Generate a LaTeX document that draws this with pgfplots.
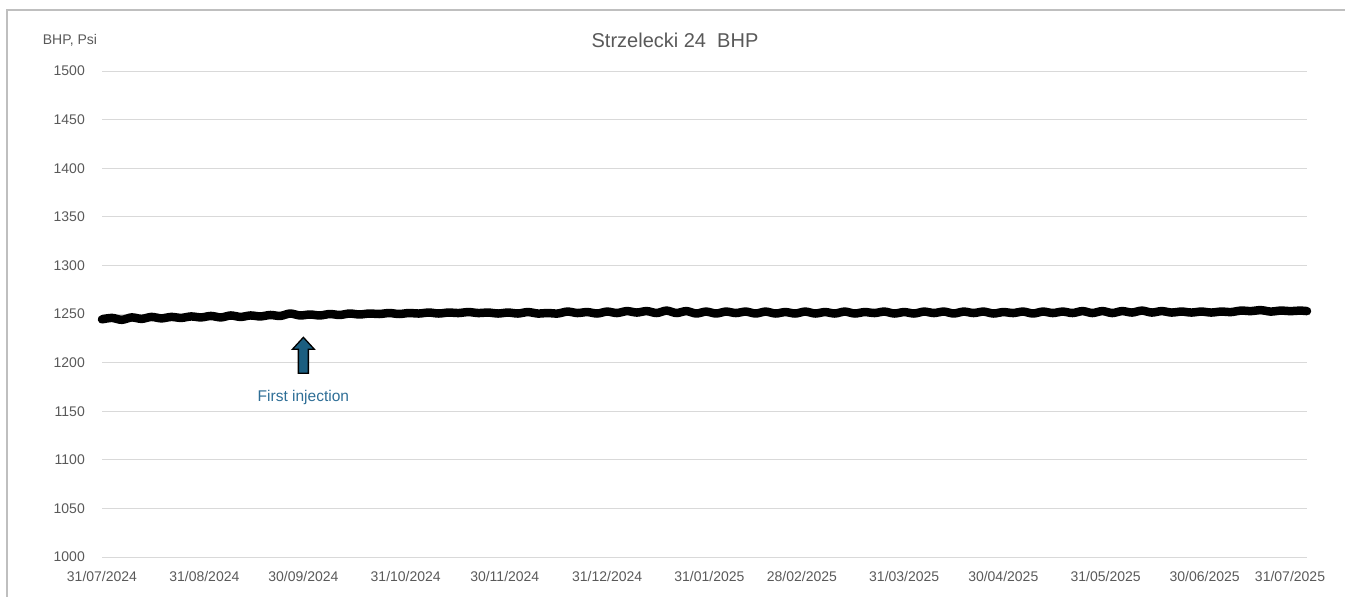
\documentclass[border=0pt]{standalone}
\usepackage{pgfplots}
\pgfplotsset{compat=1.18}
\usepackage{fontspec}
\setmainfont{Liberation Sans}

\definecolor{labelgray}{HTML}{595959}
\definecolor{gridgray}{HTML}{D9D9D9}
\definecolor{framegray}{HTML}{BFBFBF}
\definecolor{arrowfill}{HTML}{1B5E80}
\definecolor{notecolor}{HTML}{2E6E96}

% BHP readings, day 0 = 31/07/2024
\pgfplotstableread{
day bhp
0 1244.5
3 1246
6 1244
9 1246.5
12 1245
15 1247
18 1245.5
21 1247
24 1246
27 1247.5
30 1246.5
33 1248
36 1246.5
39 1248.5
42 1247
45 1248.5
48 1247.5
51 1249
54 1248
57 1250.5
60 1248.5
63 1249.5
66 1248.5
69 1250
72 1249
75 1250.5
78 1249.5
81 1250.5
84 1250
87 1251
90 1250
93 1251
96 1250.5
99 1251.5
102 1250.5
105 1251.5
108 1251
111 1252
114 1251
117 1251.5
120 1250.5
123 1251.5
126 1250.5
129 1252
132 1250.5
135 1251
138 1250.5
141 1252.5
144 1251
147 1252
150 1250.5
153 1252.5
156 1251
159 1253
162 1251.5
165 1253
168 1251
171 1253.5
174 1251
177 1253
180 1250.5
183 1252.5
186 1250.5
189 1252.5
192 1251
195 1252.5
198 1250.5
201 1252.5
204 1250.5
207 1252
210 1250.5
213 1252.5
216 1250.5
219 1252
222 1250.5
225 1252.5
228 1250.5
231 1252
234 1251
237 1252.5
240 1250.5
243 1252
246 1250.5
249 1252.5
252 1251
255 1252.5
258 1250.5
261 1252.5
264 1251
267 1252.5
270 1250.5
273 1252
276 1251
279 1252.5
282 1250.5
285 1252.5
288 1251
291 1252.5
294 1251
297 1253
300 1251
303 1253
306 1251
309 1253
312 1251.5
315 1253.5
318 1251.5
321 1253
324 1251.5
327 1252.5
330 1251.5
333 1252.5
336 1251.5
339 1252.5
342 1252
345 1253.5
348 1253
351 1254
354 1252.5
357 1253.5
360 1253
363 1253.5
365 1253
}\bhpdata

\begin{document}
\begin{tikzpicture}
\useasboundingbox (0,0) rectangle (1345bp,-597bp);
\clip (0,0) rectangle (1345bp,-597bp);
% chart frame
\draw[framegray, line width=1.2bp] (7bp,-700bp) -- (7bp,-10bp) -- (1500bp,-10bp);

\begin{axis}[
  at={(102bp,-557bp)}, anchor=south west,
  scale only axis, width=1205bp, height=486bp,
  xmin=0, xmax=365, ymin=1000, ymax=1500,
  axis line style={draw=none},
  major tick length=0pt,
  ymajorgrids,
  grid style={gridgray, line width=1bp},
  ytick={1000,1050,...,1500},
  xtick={0,31,61,92,122,153,184,212,243,273,304,334},
  xticklabels={31/07/2024,31/08/2024,30/09/2024,31/10/2024,30/11/2024,31/12/2024,31/01/2025,28/02/2025,31/03/2025,30/04/2025,31/05/2025,30/06/2025},
  extra x ticks={365},
  extra x tick labels={31/07/2025},
  extra x tick style={grid=none, tick label style={xshift=-17bp}},
  /pgf/number format/assume math mode=true,
  /pgf/number format/1000 sep={},
  tick label style={font=\fontsize{14bp}{16bp}\selectfont, text=labelgray, inner sep=0pt},
  y tick label style={xshift=-17bp},
  x tick label style={yshift=-14bp},
  clip=false,
]
\addplot[black, line width=8.5bp, smooth, tension=0.5, line join=round, line cap=round] table[x=day, y=bhp] {\bhpdata};

% first injection marker
\draw[fill=arrowfill, line width=1.3bp, line join=miter]
  (axis cs:61,1226) -- ++(11bp,-12bp) -- ++(-6bp,0bp) -- ++(0bp,-24bp)
  -- ++(-10bp,0bp) -- ++(0bp,24bp) -- ++(-6bp,0bp) -- cycle;
\node[text=notecolor, font=\fontsize{15.5bp}{18bp}\selectfont] at (axis cs:61,1164.5) {First injection};
\end{axis}

\node[text=labelgray, font=\fontsize{20bp}{24bp}\selectfont] at (675bp,-40bp) {Strzelecki 24\ \ BHP};
\node[text=labelgray, font=\fontsize{14bp}{16bp}\selectfont] at (70bp,-40bp) {BHP, Psi};
\end{tikzpicture}
\end{document}
